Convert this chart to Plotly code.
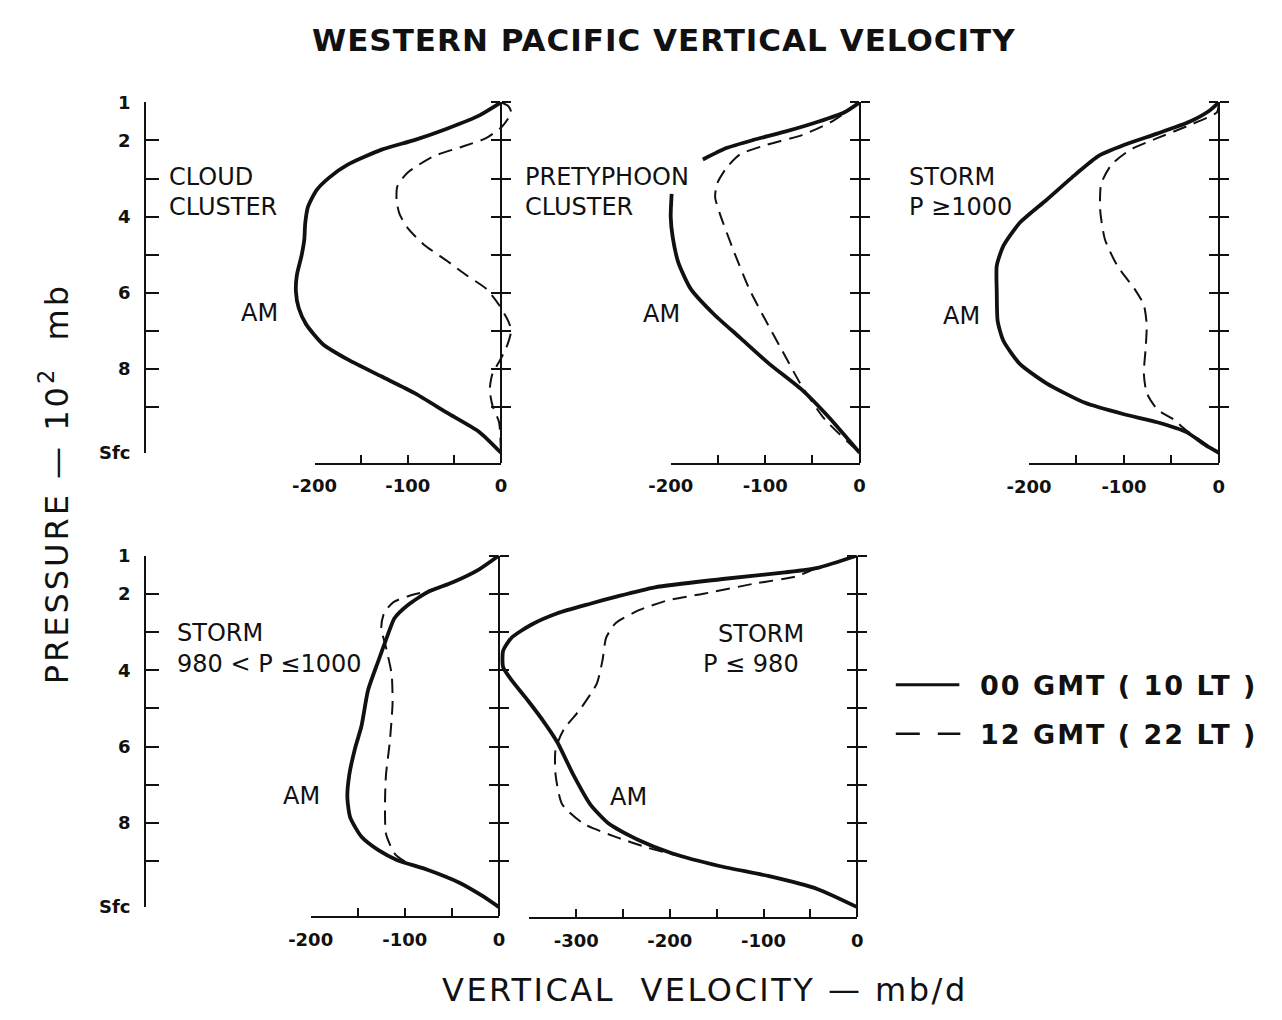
import plotly.graph_objects as go

# ---------------- data (vertical velocity in mb/d vs pressure in mb) ----------------
SFC = 1020  # surface level on the pressure scale
pressure_label_vals = [100, 200, 400, 600, 800, SFC]
pressure_labels = ["1", "2", "4", "6", "8", "Sfc"]
pressure_minor_vals = [300, 500, 700, 900]
frame_ticks = [100, 200, 300, 400, 500, 600, 700, 800, 900]

# Cloud cluster
cloud_am_w = [0, -23, -58, -93, -128, -164, -184, -198, -207, -210, -211, -214, -219, -220,
              -217, -209, -191, -163, -128, -93, -58, -23, 0]
cloud_am_p = [100, 134, 169, 199, 224, 263, 297, 331, 374, 417, 460, 503, 554, 597,
              640, 683, 735, 777, 820, 863, 915, 966, 1020]
cloud_pm_w = [0, 8, 11, 7, 1, -16, -41, -72, -100, -111, -112, -109, -100, -83, -58, -37,
              -16, -2, 8, 11, 6, -1, -9, -12, -9, -2, 0]
cloud_pm_p = [100, 110, 126, 145, 164, 194, 216, 241, 284, 319, 357, 392, 430, 473, 516, 554,
              589, 632, 675, 700, 743, 777, 812, 855, 897, 940, 1020]

# Pretyphoon cluster (solid line interrupted by the label)
pre_am_w = [0, -16, -44, -79, -113, -141, -166, None, -199, -200, -198, -192, -179, -154,
            -127, -96, -61, -34, 0]
pre_am_p = [100, 126, 151, 177, 199, 220, 250, None, 340, 400, 452, 520, 589, 657,
            717, 786, 855, 923, 1020]
pre_pm_w = [0, -30, -61, -99, -127, -141, -151, -153, -148, -134, -117, -99, -82, -61, -37, 0]
pre_pm_p = [100, 151, 186, 212, 237, 272, 314, 349, 392, 486, 589, 675, 752, 846, 932, 1020]

# Storm P >= 1000
s1000_am_w = [0, -10, -31, -65, -100, -127, -151, -182, -210, -227, -234, -234, -233, -227,
              -210, -182, -141, -100, -65, -34, -14, 0]
s1000_am_p = [100, 122, 151, 182, 212, 241, 289, 357, 417, 477, 529, 597, 675, 726,
              786, 837, 889, 919, 940, 966, 1000, 1020]
s1000_pm_w = [0, -2, -31, -65, -93, -113, -124, -125, -120, -107, -89, -79, -76, -77, -79,
              -76, -65, -48, -34, 0]
s1000_pm_p = [100, 126, 160, 194, 224, 263, 314, 383, 460, 529, 589, 632, 683, 743, 812,
              863, 906, 932, 962, 1020]

# Storm 980 < P <= 1000
s980_am_w = [0, -21, -49, -76, -97, -111, -118, -128, -139, -146, -153, -159, -161, -158,
             -146, -128, -108, -76, -42, -18, 0]
s980_am_p = [100, 136, 170, 196, 230, 264, 307, 375, 452, 546, 606, 674, 734, 785,
             836, 871, 897, 922, 956, 990, 1020]
s980_pm_w = [0, -21, -49, -76, -95, -112, -122, -125, -120, -114, -113, -116, -120, -121,
             -120, -111, -100, -76, -42, -18, 0]
s980_pm_p = [100, 136, 170, 193, 205, 222, 250, 290, 340, 410, 486, 589, 674, 743,
             828, 879, 900, 922, 956, 990, 1020]

# Storm P <= 980
s_lo_am_w = [0, -42, -77, -146, -216, -258, -285, -320, -348, -369, -378, -378, -369, -352,
             -334, -320, -303, -285, -265, -233, -198, -146, -94, -42, 0]
s_lo_am_p = [100, 132, 144, 162, 183, 208, 226, 251, 281, 315, 349, 392, 426, 478,
             537, 589, 674, 751, 802, 845, 879, 913, 939, 973, 1020]
s_lo_pm_w = [0, -42, -66, -111, -164, -202, -233, -258, -268, -272, -278, -296, -313, -322,
             -322, -315, -292, -258, -223, -200, -146, -94, -42, 0]
s_lo_pm_p = [100, 132, 155, 174, 200, 217, 243, 277, 315, 375, 435, 503, 554, 606,
             674, 751, 802, 836, 865, 880, 913, 939, 973, 1020]

x_label_vals_200 = [-200, -100, 0]
x_label_text_200 = ["-200", "-100", "0"]
x_minor_vals_200 = [-150, -50]
x_label_vals_350 = [-300, -200, -100, 0]
x_label_text_350 = ["-300", "-200", "-100", "0"]
x_minor_vals_350 = [-350, -250, -150, -50]

legend_names = ["00 GMT ( 10 LT )", "12 GMT ( 22 LT )"]

# ---------------- layout geometry (pixels) ----------------
W, H = 1282, 1020
FONT = "DejaVu Sans, sans-serif"
INK = "#111111"


def fx(px):
    return px / W


def fy(py):
    return 1 - py / H


panels = [
    dict(am=(cloud_am_w, cloud_am_p), pm=(cloud_pm_w, cloud_pm_p),
         x0=489.0, xr=298.3, xv=-200, left=-200,
         ticks=(x_label_vals_200, x_label_text_200, x_minor_vals_200),
         p100=93.3, psfc=451.0, axy=461.0, dom=(240, 515), leftaxis=True),
    dict(am=(pre_am_w, pre_am_p), pm=(pre_pm_w, pre_pm_p),
         x0=856.0, xr=662.7, xv=-200, left=-200,
         ticks=(x_label_vals_200, x_label_text_200, x_minor_vals_200),
         p100=93.3, psfc=451.0, axy=461.0, dom=(600, 880), leftaxis=False),
    dict(am=(s1000_am_w, s1000_am_p), pm=(s1000_pm_w, s1000_pm_p),
         x0=1223.5, xr=1029.3, xv=-200, left=-200,
         ticks=(x_label_vals_200, x_label_text_200, x_minor_vals_200),
         p100=93.3, psfc=451.0, axy=461.5, dom=(960, 1250), leftaxis=False),
    dict(am=(s980_am_w, s980_am_p), pm=(s980_pm_w, s980_pm_p),
         x0=487.0, xr=294.3, xv=-200, left=-200,
         ticks=(x_label_vals_200, x_label_text_200, x_minor_vals_200),
         p100=556.0, psfc=915.0, axy=924.5, dom=(240, 500), leftaxis=True),
    dict(am=(s_lo_am_w, s_lo_am_p), pm=(s_lo_pm_w, s_lo_pm_p),
         x0=853.5, xr=566.0, xv=-300, left=-350,
         ticks=(x_label_vals_350, x_label_text_350, x_minor_vals_350),
         p100=556.0, psfc=915.0, axy=925.5, dom=(482, 875), leftaxis=False),
]

fig = go.Figure()
layout = {}
n = 0


def new_id():
    global n
    n += 1
    return n


def axname(prefix, i):
    return prefix + ("" if i == 1 else str(i))


for pn in panels:
    sx = (pn["x0"] - pn["xr"]) / (-pn["xv"])
    sy = (pn["psfc"] - pn["p100"]) / (SFC - 100)
    d0, d1 = pn["dom"]
    xrange = [(d0 - pn["x0"]) / sx, (d1 - pn["x0"]) / sx]
    pbot = 100 + (pn["axy"] - pn["p100"]) / sy
    yrange = [pbot, 100.0]

    # data subplot
    i = new_id()
    xd, yd = axname("x", i), axname("y", i)
    layout[axname("xaxis", i)] = dict(domain=[fx(d0), fx(d1)], range=xrange, visible=False,
                                      anchor=yd, fixedrange=True)
    layout[axname("yaxis", i)] = dict(domain=[fy(pn["axy"]), fy(pn["p100"])], range=yrange,
                                      visible=False, anchor=xd, fixedrange=True)
    fig.add_trace(go.Scatter(x=pn["am"][0], y=pn["am"][1], xaxis=xd, yaxis=yd, mode="lines",
                             line=dict(color=INK, width=3.8, shape="spline", smoothing=0.6),
                             showlegend=False, connectgaps=False, hoverinfo="skip"))
    fig.add_trace(go.Scatter(x=pn["pm"][0], y=pn["pm"][1], xaxis=xd, yaxis=yd, mode="lines",
                             line=dict(color=INK, width=2.0, dash="14px,8px", shape="spline",
                                       smoothing=0.6),
                             showlegend=False, hoverinfo="skip"))

    # bottom velocity axis
    j = new_id()
    xb = axname("x", j)
    layout[axname("xaxis", j)] = dict(
        domain=[fx(pn["x0"] + pn["left"] * sx), fx(pn["x0"])], range=[pn["left"], 0],
        anchor=yd, showline=True, linewidth=2, linecolor=INK, ticks="inside", ticklen=8,
        tickwidth=2, tickcolor=INK, tickmode="array", tickvals=pn["ticks"][0],
        ticktext=pn["ticks"][1],
        minor=dict(tickmode="array", tickvals=pn["ticks"][2], ticks="inside", ticklen=8,
                   tickwidth=2, tickcolor=INK, showgrid=False),
        showgrid=False, zeroline=False, ticklabelstandoff=6,
        tickfont=dict(family=FONT, size=18, color=INK, weight="bold"), fixedrange=True)
    fig.add_trace(go.Scatter(x=[], y=[], xaxis=xb, yaxis=yd, showlegend=False))

    # right frame line with crossing ticks (two overlaid axes)
    for side in ("right", "left"):
        k = new_id()
        yk = axname("y", k)
        layout[axname("yaxis", k)] = dict(
            overlaying=yd, anchor="free", position=fx(pn["x0"]), side=side, range=yrange,
            showline=True, linewidth=2, linecolor=INK, ticks="outside", ticklen=9, tickwidth=2,
            tickcolor=INK, tickmode="array", tickvals=frame_ticks, showticklabels=False,
            showgrid=False, zeroline=False, fixedrange=True)
        fig.add_trace(go.Scatter(x=[], y=[], xaxis=xd, yaxis=yk, showlegend=False))

    # left pressure axis
    if pn["leftaxis"]:
        m = new_id()
        xm, ym = axname("x", m), axname("y", m)
        lx = 126.0
        layout[axname("xaxis", m)] = dict(domain=[fx(lx), fx(lx + 20)], range=[0, 1],
                                          visible=False, anchor=ym, fixedrange=True)
        layout[axname("yaxis", m)] = dict(
            domain=[fy(pn["psfc"]), fy(pn["p100"])], range=[SFC, 100], anchor=xm, side="left",
            showline=True, linewidth=2, linecolor=INK, ticks="inside", ticklen=13, tickwidth=2,
            tickcolor=INK, tickmode="array", tickvals=pressure_label_vals,
            ticktext=pressure_labels,
            minor=dict(tickmode="array", tickvals=pressure_minor_vals, ticks="inside",
                       ticklen=13, tickwidth=2, tickcolor=INK, showgrid=False),
            showgrid=False, zeroline=False, ticklabelstandoff=10,
            tickfont=dict(family=FONT, size=18, color=INK, weight="bold"), fixedrange=True)
        fig.add_trace(go.Scatter(x=[], y=[], xaxis=xm, yaxis=ym, showlegend=False))

annotations = []


def label(text, px, py, size=24, anchor="left", angle=0, bold=False, spacing=None):
    t = text
    if spacing is not None:
        t = '<span style="letter-spacing:%spx">%s</span>' % (spacing, t)
    if bold:
        t = "<b>%s</b>" % t
    annotations.append(dict(text=t, x=fx(px), y=fy(py), xref="paper", yref="paper",
                            xanchor=anchor, yanchor="middle", showarrow=False, textangle=angle,
                            font=dict(family=FONT, size=size, color=INK)))


label("WESTERN PACIFIC VERTICAL VELOCITY", 656, 30, size=31, anchor="center", bold=True,
      spacing=1.0)
label("PRESSURE — 10<sup>2</sup>  mb", 32, 483, size=32, anchor="center", angle=-90,
      spacing=3)
label("VERTICAL  VELOCITY — mb/d", 698, 1000, size=32, anchor="center", spacing=2.5)

label("CLOUD", 147, 170)
label("CLUSTER", 147, 200)
label("AM", 221, 308)
label("PRETYPHOON", 512, 170)
label("CLUSTER", 512, 200)
label("AM", 632, 309)
label("STORM", 904, 170)
label("P ≥1000", 904, 200)
label("AM", 939, 311)
label("STORM", 156, 635)
label("980 < P ≤1000", 156, 667)
label("AM", 264, 802)
label("STORM", 709, 636)
label("P ≤ 980", 694, 667)
label("AM", 599, 803)

label(legend_names[0], 977, 689, size=27, bold=True, spacing=2)
label(legend_names[1], 977, 739, size=27, bold=True, spacing=2)

shapes = [
    dict(type="line", xref="paper", yref="paper", x0=fx(893), x1=fx(958), y0=fy(688), y1=fy(688),
         line=dict(color=INK, width=3)),
    dict(type="line", xref="paper", yref="paper", x0=fx(893), x1=fx(959), y0=fy(738), y1=fy(738),
         line=dict(color=INK, width=2.5, dash="24px,18px")),
]

fig.update_layout(**layout)
fig.update_layout(width=W, height=H, margin=dict(l=0, r=0, t=0, b=0), paper_bgcolor="white",
                  plot_bgcolor="rgba(0,0,0,0)", showlegend=False, annotations=annotations,
                  shapes=shapes, font=dict(family=FONT, color=INK))
fig.write_html("out.html", config={"displayModeBar": False})
